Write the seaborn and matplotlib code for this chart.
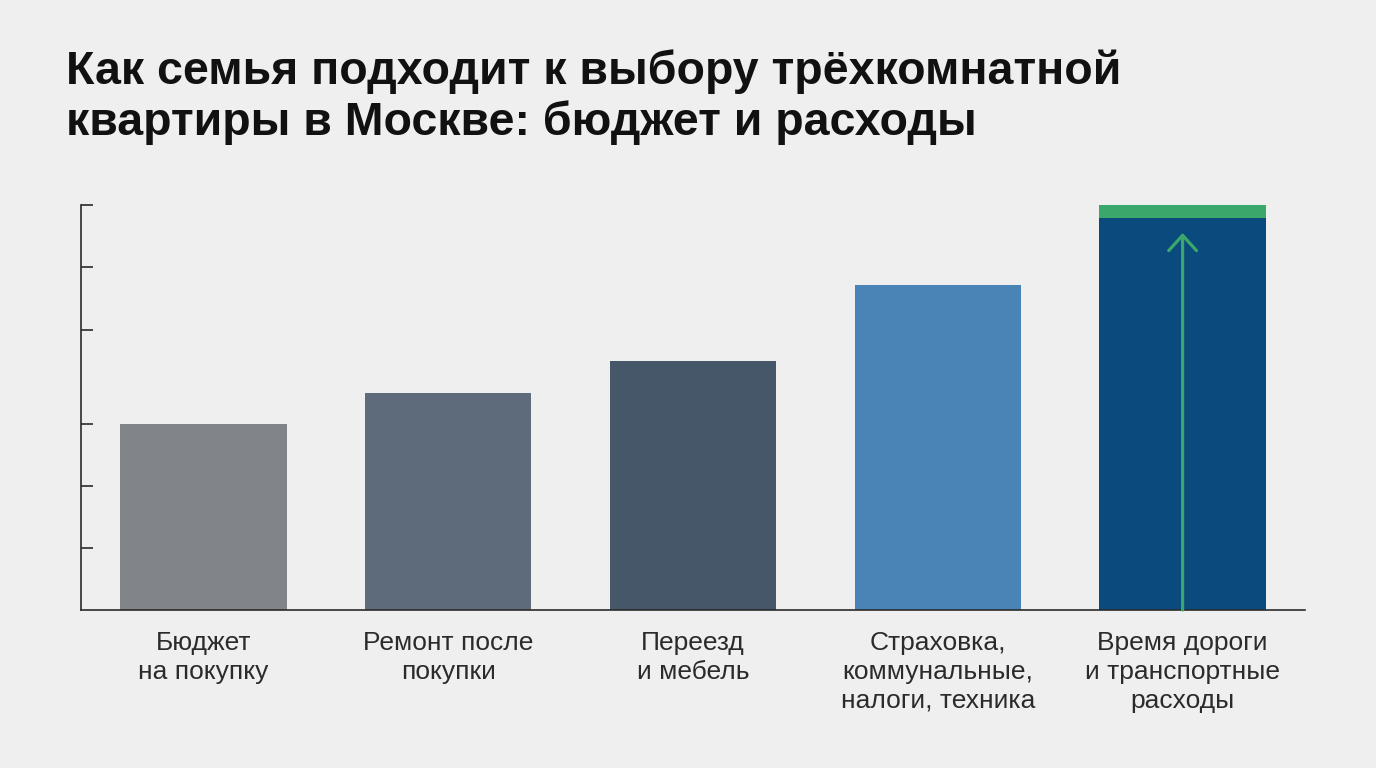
import numpy as np
import matplotlib
matplotlib.use('Agg')
import matplotlib.pyplot as plt
import seaborn as sns

# данные
categories = ['Бюджет\nна покупку', 'Ремонт после\nпокупки', 'Переезд\nи мебель',
              'Страховка,\nкоммунальные,\nналоги, техника', 'Время дороги\nи транспортные\nрасходы']
values = [45.9, 53.6, 61.5, 80.2, 96.8]
bar_colors = ['#818488', '#5e6b7b', '#465769', '#4a83b5', '#0b4a7c']
top_band = 3.2          # зелёная полоса над последним столбцом
arrow_top = 93.1
ytick_values = [15.3, 30.6, 45.9, 69.1, 84.7, 100]

bg = '#efefef'
ink = '#2b2b2b'
green = '#3aa86b'

sns.set_theme(style='white')
plt.rcParams['font.family'] = ['Liberation Sans', 'DejaVu Sans']

fig = plt.figure(figsize=(13.76, 7.68), dpi=100, facecolor=bg)
ax = fig.add_axes([81 / 1376, 1 - 610 / 768, (1305 - 81) / 1376, (610 - 205) / 768])
ax.set_facecolor(bg)

sns.barplot(x=categories, y=values, hue=categories, palette=bar_colors, legend=False,
            width=0.68, saturation=1, ax=ax, linewidth=0)

# зелёная полоса сверху и стрелка
ax.bar(4, top_band, bottom=values[4], width=0.68, color=green, linewidth=0)
ax.annotate('', xy=(4, arrow_top), xytext=(4, 0),
            arrowprops=dict(arrowstyle='->,head_length=0.55,head_width=0.5',
                            color=green, lw=2.3, mutation_scale=20,
                            shrinkA=0, shrinkB=0))

ax.set_xlim(-0.5, 4.5)
ax.set_ylim(0, 100)
ax.set_yticks(ytick_values)
ax.set_yticklabels([])
ax.tick_params(axis='y', direction='in', length=8.5, width=1.2, color=ink, left=True)
ax.tick_params(axis='x', length=0, pad=15, labelsize=19, labelcolor=ink)
for lab in ax.get_xticklabels():
    lab.set_linespacing(1.26)

sns.despine(ax=ax)
for s in ['left', 'bottom']:
    ax.spines[s].set_color(ink)
    ax.spines[s].set_linewidth(1.2)

fig.text(66 / 1376, 1 - 49 / 768,
         'Как семья подходит к выбору трёхкомнатной\nквартиры в Москве: бюджет и расходы',
         fontsize=33.5, fontweight='bold', color='#111111', va='top', ha='left',
         linespacing=1.2)

fig.savefig('out.png', dpi=100, facecolor=bg)
